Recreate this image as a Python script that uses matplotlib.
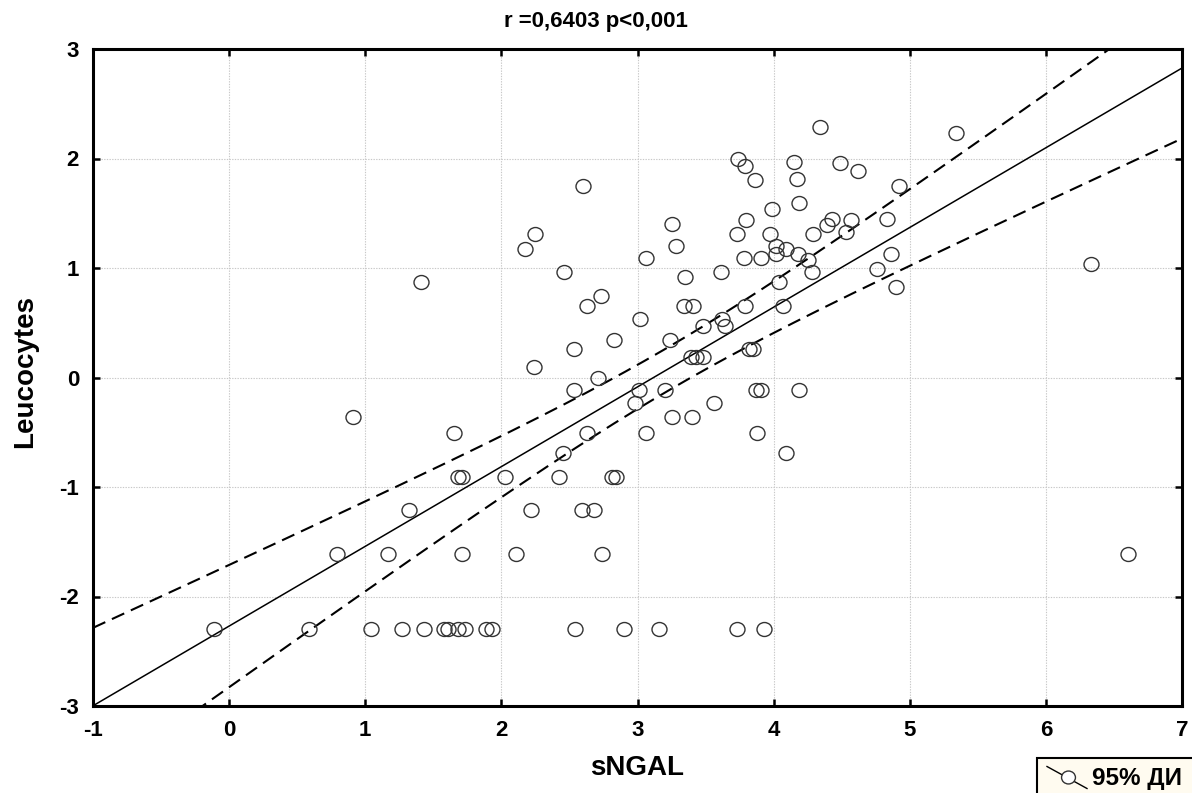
import numpy as np
import matplotlib
matplotlib.use("Agg")
import matplotlib.pyplot as plt
from matplotlib.path import Path
from matplotlib.markers import MarkerStyle
from matplotlib.lines import Line2D
from matplotlib.patches import Rectangle
from matplotlib.transforms import Affine2D

# ---- data -------------------------------------------------------------
sngal = [
    4.34, 5.34, 3.74, 4.15, 4.49, 3.79, 4.62, 4.17, 3.86, 2.60, 4.92,
    4.19, 3.99, 4.43, 4.83, 3.80, 4.57, 3.25, 4.39, 4.53,
    2.25, 3.73, 3.97, 4.29, 3.28, 4.02, 2.17, 4.09, 4.02, 4.18, 4.86,
    4.25, 3.06, 3.78, 3.91, 6.33, 4.76, 2.46, 3.61, 4.28, 3.35,
    1.41, 4.04, 4.90, 2.73, 2.63, 3.34, 3.41, 3.79, 4.07,
    3.02, 3.62, 3.48, 3.64, 2.83, 3.24, 2.53, 3.82, 3.85,
    3.39, 3.43, 3.48, 2.24, 2.71,
    2.53, 3.01, 3.20, 3.87, 3.91, 4.19, 2.98, 3.56,
    0.91, 3.25, 3.40, 1.65, 2.63, 3.06, 3.88, 2.45, 4.09,
    1.68, 1.71, 2.03, 2.42, 2.81, 2.84,
    1.32, 2.22, 2.59, 2.68,
    0.79, 1.17, 1.71, 2.11, 2.74, 6.60,
    -0.11, 0.59, 1.04, 1.27, 1.43, 1.58, 1.61, 1.68, 1.73, 1.89, 1.93,
    2.54, 2.90, 3.16, 3.73, 3.93,
]
leucocytes = [
    2.285, 2.23, 1.995, 1.97, 1.96, 1.93, 1.89, 1.81, 1.80, 1.75, 1.75,
    1.59, 1.54, 1.45, 1.45, 1.44, 1.44, 1.40, 1.39, 1.33,
    1.31, 1.31, 1.31, 1.31, 1.20, 1.20, 1.17, 1.17, 1.13, 1.13, 1.13,
    1.07, 1.09, 1.09, 1.09, 1.04, 0.99, 0.96, 0.96, 0.96, 0.915,
    0.87, 0.87, 0.83, 0.74, 0.65, 0.65, 0.65, 0.65, 0.65,
    0.53, 0.53, 0.47, 0.47, 0.34, 0.34, 0.26, 0.26, 0.26,
    0.19, 0.19, 0.19, 0.10, 0.00,
    -0.115, -0.115, -0.115, -0.115, -0.115, -0.115, -0.23, -0.23,
    -0.365, -0.365, -0.365, -0.51, -0.51, -0.51, -0.51, -0.69, -0.69,
    -0.91, -0.91, -0.91, -0.91, -0.91, -0.91,
    -1.21, -1.21, -1.21, -1.21,
    -1.615, -1.615, -1.615, -1.615, -1.615, -1.615,
    -2.30, -2.30, -2.30, -2.30, -2.30, -2.30, -2.30, -2.30, -2.30, -2.30, -2.30,
    -2.30, -2.30, -2.30, -2.30, -2.30,
]

x_ticks = [-1, 0, 1, 2, 3, 4, 5, 6, 7]
y_ticks = [-3, -2, -1, 0, 1, 2, 3]
title_text = "r =0,6403 p<0,001"
x_label = "sNGAL"
y_label = "Leucocytes"
legend_text = "95% ДИ"

# regression line and its 95% confidence band
fit_intercept = -2.27
fit_slope = 0.728
band_center = 3.22
band_scale = 0.162
band_spread = 1.5

# ---- figure -----------------------------------------------------------
W, H = 1192, 793
fig = plt.figure(figsize=(W / 100, H / 100), dpi=100)
fig.patch.set_facecolor("white")
plt.rcParams["font.family"] = ["Liberation Sans", "DejaVu Sans"]
plt.rcParams["font.weight"] = "bold"

left, right, top, bottom = 93, 1182, 49, 706
ax = fig.add_axes([left / W, 1 - bottom / H, (right - left) / W, (bottom - top) / H])
ax.set_xlim(-1, 7)
ax.set_ylim(-3, 3)

# grid
ax.set_xticks(x_ticks)
ax.set_yticks(y_ticks)
ax.grid(True, color="#c8c8c8", linestyle=(0, (1.2, 1.2)), linewidth=0.8)
ax.set_axisbelow(True)

# fitted line and confidence band
xs = np.linspace(-1, 7, 400)
yfit = fit_intercept + fit_slope * xs
half = band_scale * np.sqrt(band_spread + (xs - band_center) ** 2)
ax.plot(xs, yfit, color="black", lw=1.1, zorder=3)
ax.plot(xs, yfit + half, color="black", lw=1.5, ls=(0, (6.5, 3.5)), zorder=3)
ax.plot(xs, yfit - half, color="black", lw=1.5, ls=(0, (6.5, 3.5)), zorder=3)

# open, slightly flattened circles
ell = Path.unit_circle().transformed(Affine2D().scale(1.0, 0.93))
marker = MarkerStyle(ell)
ax.plot(sngal, leucocytes, linestyle="none", marker=marker, markersize=10.8,
        markerfacecolor="none", markeredgecolor="#333333", markeredgewidth=1.0,
        zorder=4)

# spines and ticks
for sp in ax.spines.values():
    sp.set_linewidth(2.2)
    sp.set_color("black")
ax.tick_params(axis="both", which="both", direction="in", length=5, width=1.8,
               top=True, right=True, labelsize=16)
ax.tick_params(axis="x", pad=10)
ax.tick_params(axis="y", pad=10)
ax.set_xticklabels([str(t) for t in x_ticks], fontweight="bold")
ax.set_yticklabels([str(t) for t in y_ticks], fontweight="bold")

# titles and axis labels
fig.text(596 / W, 1 - 21 / H, title_text, ha="center", va="center",
         fontsize=16, fontweight="bold")
fig.text(637 / W, 1 - 768 / H, x_label, ha="center", va="center",
         fontsize=20, fontweight="bold")
fig.text(25 / W, 1 - 372 / H, y_label, ha="center", va="center",
         fontsize=20, fontweight="bold", rotation=90)

# legend box in the lower right corner
box = Rectangle((1037 / W, 1 - 796 / H), 160 / W, 38 / H,
                transform=fig.transFigure, facecolor="#fffbf0",
                edgecolor="black", linewidth=1.5, zorder=5)
fig.add_artist(box)
icon = Line2D([1047 / W, 1087 / W], [1 - 766.5 / H, 1 - 788.5 / H],
              transform=fig.transFigure, color="black", lw=1.0, zorder=6)
fig.add_artist(icon)
icon_mk = Line2D([1068 / W], [1 - 777 / H], transform=fig.transFigure,
                 linestyle="none", marker=marker, markersize=10,
                 markerfacecolor="white", markeredgecolor="#333333",
                 markeredgewidth=1.0, zorder=7)
fig.add_artist(icon_mk)
fig.text(1092 / W, 1 - 778 / H, legend_text, ha="left", va="center",
         fontsize=17.5, fontweight="bold", zorder=8)

fig.savefig("out.png", dpi=100, facecolor="white")
